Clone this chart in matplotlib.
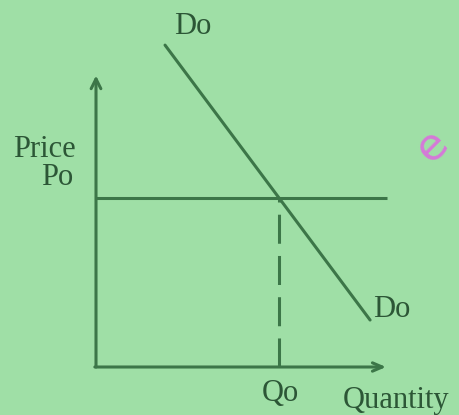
import matplotlib
matplotlib.use("Agg")
import matplotlib.pyplot as plt

# Data (economic units)
demand_q = [2.38, 9.45]      # Do line endpoints (quantity)
demand_p = [11.10, 1.62]     # Do line endpoints (price)
price_level = 5.83           # Po
quantity_level = 6.31        # Qo
axis_max_q = 10.0
axis_max_p = 10.0
labels = {"demand": "Do", "price": "Price", "po": "Po", "qo": "Qo", "quantity": "Quantity"}

BG = "#9fdfa6"
LINE = "#3c7648"
TEXT = "#2c5636"
plt.rcParams['font.family'] = ['Liberation Serif', 'DejaVu Serif']

fig = plt.figure(figsize=(4.6, 4.15), dpi=100)
fig.patch.set_facecolor(BG)
ax = fig.add_axes([0, 0, 1, 1])
ax.set_facecolor(BG)
ax.set_xlim(-3.31, 12.55)
ax.set_ylim(-1.655, 12.655)
ax.axis("off")

lw = 2.2
# axes with arrows
ax.annotate("", xy=(0, axis_max_p + 0.05), xytext=(0, 0),
            arrowprops=dict(arrowstyle="->,head_length=0.7,head_width=0.35", color=LINE, lw=lw,
                            shrinkA=0, shrinkB=0))
ax.annotate("", xy=(axis_max_q, 0), xytext=(-0.04, 0),
            arrowprops=dict(arrowstyle="->,head_length=0.7,head_width=0.3", color=LINE, lw=lw,
                            shrinkA=0, shrinkB=0))

# price line
ax.plot([0, axis_max_q + 0.05], [price_level, price_level], color=LINE, lw=lw, solid_capstyle="butt")
# demand line
ax.plot(demand_q, demand_p, color=LINE, lw=lw, solid_capstyle="round")
# dashed vertical at Qo
ax.plot([quantity_level, quantity_level], [0, price_level], color=LINE, lw=lw,
        dashes=(9.5, 4), dash_capstyle="butt")

fs = 22
ax.text(demand_q[0] + 0.95, demand_p[0] + 0.65, labels["demand"], color=TEXT, fontsize=fs,
        ha="center", va="center")
ax.text(demand_q[1] + 0.75, demand_p[1] + 0.35, labels["demand"], color=TEXT, fontsize=fs,
        ha="center", va="center")
ax.text(-1.79, price_level + 1.67, labels["price"], color=TEXT, fontsize=fs, ha="center", va="center")
ax.text(-1.35, price_level + 0.70, labels["po"], color=TEXT, fontsize=fs, ha="center", va="center")
ax.text(quantity_level + 0.03, -0.9, labels["qo"], color=TEXT, fontsize=fs, ha="center", va="center")
ax.text(8.52, -1.15, labels["quantity"], color=TEXT, fontsize=fs, ha="left", va="center")

# watermark fragment
ax.text(11.6, 7.6, "e", color="#d57ad8", fontsize=32, rotation=45, ha="center", va="center",
        family="DejaVu Sans")

fig.savefig("out.png", dpi=100, facecolor=BG)
